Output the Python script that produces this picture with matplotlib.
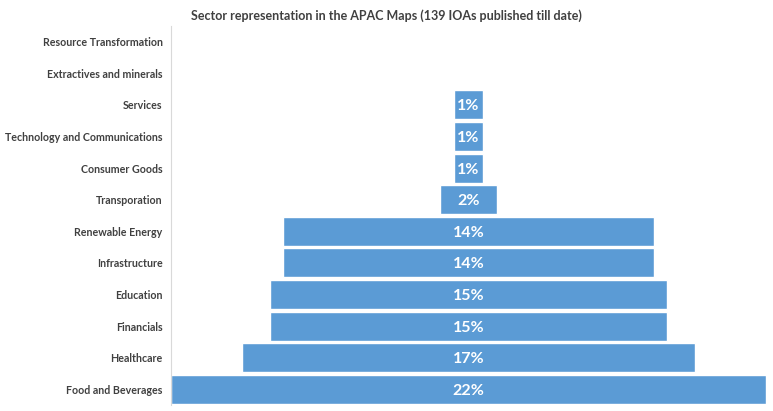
import matplotlib
matplotlib.use("Agg")
import matplotlib.pyplot as plt
import numpy as np

categories = ["Resource Transformation", "Extractives and minerals", "Services",
              "Technology and Communications", "Consumer Goods", "Transporation",
              "Renewable Energy", "Infrastructure", "Education", "Financials",
              "Healthcare", "Food and Beverages"]
values = [0, 0, 1.1, 1.1, 1.1, 2.1, 13.9, 13.9, 14.9, 14.9, 17.0, 22.3]
labels = ["", "", "1%", "1%", "1%", "2%", "14%", "14%", "15%", "15%", "17%", "22%"]

plt.rcParams['font.family'] = ['Lato', 'DejaVu Sans']

fig = plt.figure(figsize=(7.73, 4.11), dpi=100)
ax = fig.add_axes([0.2212, 0.0146, 0.7698, 0.9221])

vmax = max(values)
y = np.arange(len(categories))
lefts = [(vmax - v) / 2 for v in values]
ax.barh(y, values, left=lefts, height=0.92, color="#5B9BD5", edgecolor="white", linewidth=1.0)
for yi, v, l, lab in zip(y, values, lefts, labels):
    if lab:
        ax.text(l + v / 2, yi, lab, ha="center", va="center_baseline", color="white",
                fontsize=11.5, fontweight="bold")

ax.set_xlim(0, vmax)
ax.set_ylim(len(categories) - 0.5, -0.5)
ax.set_yticks(y)
ax.set_yticklabels(categories, fontsize=7.7, fontweight="bold", color="#404040")
ax.tick_params(axis="y", length=0, pad=6)
ax.set_xticks([])
for s in ["top", "right", "bottom"]:
    ax.spines[s].set_visible(False)
ax.spines["left"].set_color("#D9D9D9")
ax.spines["left"].set_linewidth(0.8)

fig.text(0.5, 0.962, "Sector representation in the APAC Maps (139 IOAs published till date)",
         ha="center", va="center", fontsize=9.0, fontweight="bold", color="#404040")

fig.savefig("out.png", dpi=100)
